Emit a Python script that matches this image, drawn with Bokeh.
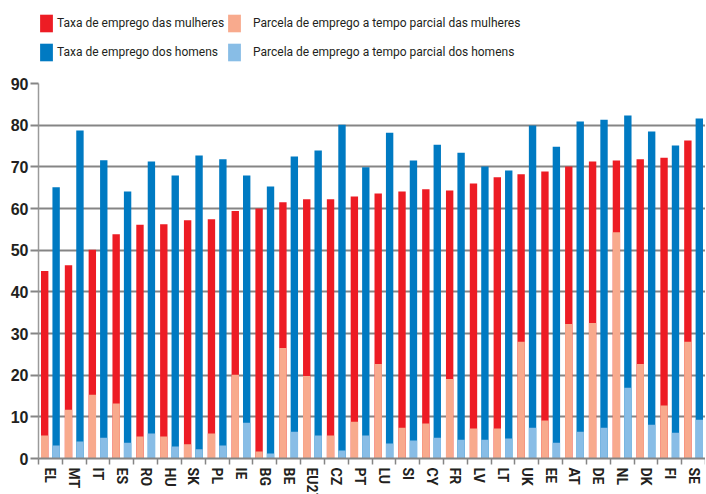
from bokeh.plotting import figure
from bokeh.models import (ColumnDataSource, Range1d, FixedTicker, Legend, LegendItem)
from bokeh.layouts import column
from bokeh.transform import dodge
from bokeh.embed import file_html
from bokeh.resources import INLINE

categories = ["EL", "MT", "IT", "ES", "RO", "HU", "SK", "PL", "IE", "BG", "BE", "EU27", "CZ", "PT",
              "LU", "SI", "CY", "FR", "LV", "LT", "UK", "EE", "AT", "DE", "NL", "DK", "FI", "SE"]

women_rate = [45.0, 46.4, 50.1, 53.8, 56.1, 56.2, 57.2, 57.4, 59.4, 60.0, 61.5, 62.2, 62.2, 62.9,
              63.6, 64.1, 64.6, 64.3, 66.0, 67.5, 68.2, 68.9, 70.1, 71.3, 71.5, 71.8, 72.2, 76.3]
men_rate = [65.1, 78.7, 71.6, 64.1, 71.3, 67.9, 72.7, 71.8, 67.9, 65.3, 72.5, 73.9, 80.1, 69.9,
            78.2, 71.5, 75.3, 73.4, 70.1, 69.1, 79.9, 74.8, 80.9, 81.3, 82.3, 78.5, 75.1, 81.6]
women_parttime = [5.5, 11.7, 15.3, 13.2, 5.3, 5.3, 3.4, 6.0, 20.1, 1.7, 26.5, 19.8, 5.5, 8.8,
                  22.7, 7.4, 8.4, 19.1, 7.2, 7.2, 28.0, 9.1, 32.3, 32.5, 54.3, 22.7, 12.7, 28.0]
men_parttime = [3.1, 4.1, 5.0, 3.8, 6.0, 2.9, 2.2, 3.1, 8.6, 1.2, 6.4, 5.5, 1.9, 5.5,
                3.6, 4.3, 5.0, 4.5, 4.5, 4.8, 7.4, 3.8, 6.4, 7.4, 17.0, 8.1, 6.2, 9.3]
y_ticks = [0, 10, 20, 30, 40, 50, 60, 70, 80, 90]

labels = ["Taxa de emprego das mulheres",
          "Parcela de emprego a tempo parcial das mulheres",
          "Taxa de emprego dos homens",
          "Parcela de emprego a tempo parcial dos homens"]

RED = "#ED1C24"
SALMON = "#F8AA8D"
BLUE = "#007AC2"
LIGHTBLUE = "#88BDE6"
GRID = "#858585"
TEXT = "#231F20"

n = len(categories)
source = ColumnDataSource(dict(
    idx=list(range(n)), cat=categories,
    women_rate=women_rate, men_rate=men_rate,
    women_pt=women_parttime, men_pt=men_parttime,
))

W = 0.31
OFF = 0.24
# (field, offset, colour) for each series, in legend order
series = [("women_rate", -OFF, RED), ("women_pt", -OFF, SALMON),
          ("men_rate", OFF, BLUE), ("men_pt", OFF, LIGHTBLUE)]
draw_order = [0, 2, 1, 3]

# ---------- main chart ----------
p = figure(frame_width=667, frame_height=375,
           x_range=Range1d(-0.5, n - 0.5), y_range=Range1d(0, 90),
           output_backend="svg", toolbar_location=None,
           min_border_left=38, min_border_right=0, min_border_top=8, min_border_bottom=0)
p.outline_line_color = None
p.background_fill_color = "white"

for k in draw_order:
    field, o, col = series[k]
    p.vbar(x=dodge("idx", o), top=field, width=W, source=source,
           fill_color=col, line_color=None)

xa = p.xaxis[0]
xa.ticker = FixedTicker(ticks=list(range(n)), minor_ticks=[i - 0.5 for i in range(n + 1)])
xa.major_label_overrides = {i: c for i, c in enumerate(categories)}
xa.major_label_orientation = "vertical"
xa.major_tick_out = 0
xa.major_tick_in = 0
xa.minor_tick_out = 6
xa.minor_tick_in = 0
xa.minor_tick_line_color = GRID
xa.minor_tick_line_width = 1.5
xa.axis_line_color = GRID
xa.axis_line_width = 2
xa.major_label_text_font = "Roboto"
xa.major_label_text_font_style = "bold"
xa.major_label_text_font_size = "14px"
xa.major_label_text_color = TEXT
xa.major_label_standoff = 3

ya = p.yaxis[0]
ya.ticker = FixedTicker(ticks=y_ticks)
ya.major_tick_out = 8
ya.major_tick_in = 0
ya.major_tick_line_color = GRID
ya.major_tick_line_width = 2
ya.minor_tick_line_color = None
ya.axis_line_color = "#9a9a9a"
ya.axis_line_width = 1.5
ya.major_label_text_font = "Liberation Sans"
ya.major_label_text_font_style = "bold"
ya.major_label_text_font_size = "16px"
ya.major_label_text_color = TEXT
ya.major_label_standoff = 2

p.xgrid.grid_line_color = None
p.ygrid.ticker = FixedTicker(ticks=y_ticks)
p.ygrid.grid_line_color = GRID
p.ygrid.grid_line_width = 2

# ---------- legend strip (same series, drawn off-view so only the legend shows) ----------
lg = figure(width=705, height=75, x_range=Range1d(-100, -99), y_range=Range1d(0, 1),
            x_axis_location=None, y_axis_location=None,
            output_backend="svg", toolbar_location=None,
            min_border_left=0, min_border_right=0, min_border_top=0, min_border_bottom=0)
lg.grid.visible = False
lg.outline_line_color = None
items = []
for lab, (field, o, col) in zip(labels, series):
    r = lg.vbar(x=dodge("idx", o), top=field, width=W, source=source,
                fill_color=col, line_color=None)
    items.append(LegendItem(label=lab, renderers=[r]))


def make_legend(its, loc, standoff):
    lgd = Legend(items=its, orientation="vertical", location=loc)
    lgd.padding = 0
    lgd.margin = 0
    lgd.spacing = 6
    lgd.glyph_width = 16
    lgd.glyph_height = 22
    lgd.label_height = 23
    lgd.label_standoff = standoff
    lgd.label_text_font = "Roboto"
    lgd.label_text_font_size = "12px"
    lgd.label_text_color = TEXT
    lgd.background_fill_alpha = 0
    lgd.border_line_color = None
    return lgd


# right-hand column first, so the left-hand column is painted on top of it
lg.add_layout(make_legend([items[1], items[3]], (188, 12), 11), "center")
lg.add_layout(make_legend([items[0], items[2]], (0, 12), 3), "center")

layout = column(lg, p, spacing=0)
open("out.html", "w").write(file_html(layout, INLINE))
